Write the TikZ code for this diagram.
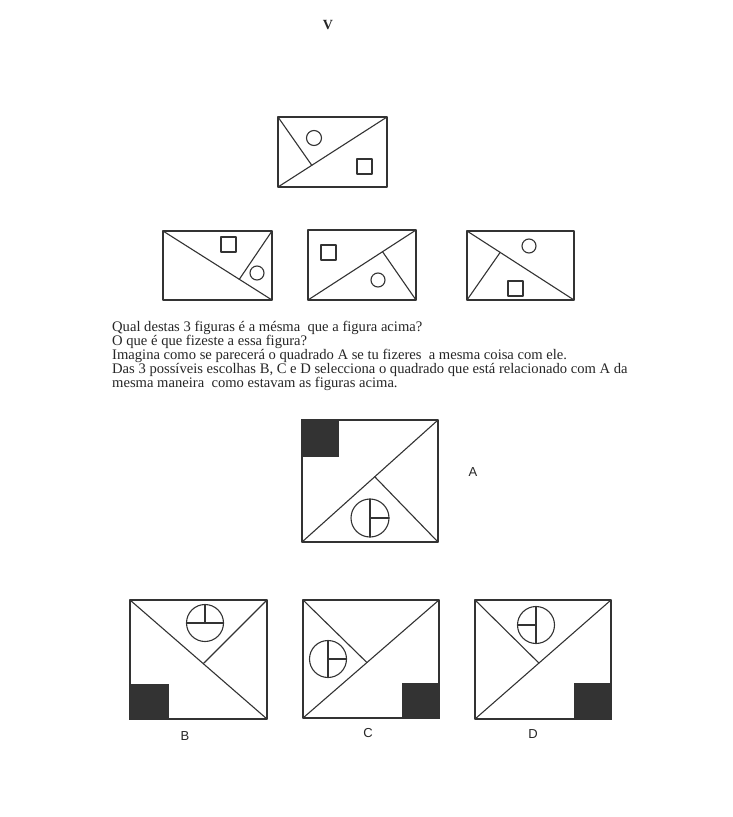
\documentclass[tikz,border=0pt]{standalone}
\usepackage{fontspec}
\setmainfont{Liberation Serif}
\newfontfamily\labelfont{Liberation Sans}
\usetikzlibrary{calc}
\begin{document}
\begin{tikzpicture}[x=1pt,y=-1pt,
  fig/.style={draw=black!80, line width=1.1pt, line join=round, line cap=round},
  dark/.style={fill=black!80, draw=black!80, line width=1.1pt},
  txt/.style={anchor=base west, inner sep=0pt, text=black!85, font=\fontsize{14.6}{14}\selectfont},
  lbl/.style={font=\labelfont\fontsize{13}{15}\selectfont, inner sep=0pt, text=black!85}]
\useasboundingbox[fill=white] (0,0) rectangle (732,817);

\node[font=\bfseries\fontsize{14}{16}\selectfont, inner sep=0pt, text=black!85] (title) at (328,25) {V};

% ---- top figure
\coordinate (t1) at (278,117); \coordinate (t2) at (387,117);
\coordinate (t3) at (387,187); \coordinate (t4) at (278,187);
\draw[fig] (t1) rectangle (t3);
\draw[fig] (t4) -- (t2);
\coordinate (tf) at ($(t4)!0.31!(t2)$);
\draw[fig] (t1) -- (tf);
\draw[fig] (314,138) circle[radius=7.5];
\draw[fig] (357,159) rectangle (372,174);

% ---- row 2, figure 1
\coordinate (a1) at (163,231); \coordinate (a2) at (272,231);
\coordinate (a3) at (272,300); \coordinate (a4) at (163,300);
\draw[fig] (a1) rectangle (a3);
\draw[fig] (a1) -- (a3);
\coordinate (af) at ($(a1)!0.70!(a3)$);
\draw[fig] (a2) -- (af);
\draw[fig] (221,237) rectangle (236,252);
\draw[fig] (257,273) circle[radius=7];

% ---- row 2, figure 2
\coordinate (b1) at (308,230); \coordinate (b2) at (416,230);
\coordinate (b3) at (416,300); \coordinate (b4) at (308,300);
\draw[fig] (b1) rectangle (b3);
\draw[fig] (b4) -- (b2);
\coordinate (bf) at ($(b4)!0.69!(b2)$);
\draw[fig] (b3) -- (bf);
\draw[fig] (321,245) rectangle (336,260);
\draw[fig] (378,280) circle[radius=7];

% ---- row 2, figure 3
\coordinate (c1) at (467,231); \coordinate (c2) at (574,231);
\coordinate (c3) at (574,300); \coordinate (c4) at (467,300);
\draw[fig] (c1) rectangle (c3);
\draw[fig] (c1) -- (c3);
\coordinate (cf) at ($(c1)!0.31!(c3)$);
\draw[fig] (c4) -- (cf);
\draw[fig] (529,246) circle[radius=7];
\draw[fig] (508,281) rectangle (523,296);

% ---- text
\node[txt] (l1) at (112,331) {Qual destas 3 figuras é a mésma\ \ que a figura acima?};
\node[txt] (l2) at (112,345) {O que é que fizeste a essa figura?};
\node[txt] (l3) at (112,359) {Imagina como se parecerá o quadrado A se tu fizeres\ \ a mesma coisa com ele.};
\node[txt] (l4) at (112,373) {Das 3 possíveis escolhas B, C e D selecciona o quadrado que está relacionado com A da};
\node[txt] (l5) at (112,387) {mesma maneira\ \ como estavam as figuras acima.};

% ---- figure A
\coordinate (A1) at (302,420); \coordinate (A2) at (438,420);
\coordinate (A3) at (438,542); \coordinate (A4) at (302,542);
\draw[dark] (A1) rectangle (338,456);
\draw[fig] (A1) rectangle (A3);
\draw[fig] (A4) -- (A2);
\coordinate (Af) at ($(A4)!0.535!(A2)$);
\draw[fig] (A3) -- (Af);
\coordinate (Ac) at (370,518);
\draw[fig] (Ac) circle[radius=19];
\draw[fig] ($(Ac)+(0,-19)$) -- ($(Ac)+(0,19)$);
\draw[fig] (Ac) -- ($(Ac)+(19,0)$);
\node[lbl] (labA) at (473,472) {A};

% ---- figure B
\coordinate (B1) at (130,600); \coordinate (B2) at (267,600);
\coordinate (B3) at (267,719); \coordinate (B4) at (130,719);
\draw[dark] (B4) rectangle (168,685);
\draw[fig] (B1) rectangle (B3);
\draw[fig] (B1) -- (B3);
\coordinate (Bf) at ($(B1)!0.535!(B3)$);
\draw[fig] (B2) -- (Bf);
\coordinate (Bc) at (205,623);
\draw[fig] (Bc) circle[radius=18.5];
\draw[fig] ($(Bc)+(-18.5,0)$) -- ($(Bc)+(18.5,0)$);
\draw[fig] (Bc) -- ($(Bc)+(0,-18.5)$);
\node[lbl] (labB) at (185,736) {B};

% ---- figure C
\coordinate (C1) at (303,600); \coordinate (C2) at (439,600);
\coordinate (C3) at (439,718); \coordinate (C4) at (303,718);
\draw[dark] (403,684) rectangle (C3);
\draw[fig] (C1) rectangle (C3);
\draw[fig] (C4) -- (C2);
\coordinate (Cf) at ($(C4)!0.47!(C2)$);
\draw[fig] (C1) -- (Cf);
\coordinate (Cc) at (328,659);
\draw[fig] (Cc) circle[radius=18.5];
\draw[fig] ($(Cc)+(0,-18.5)$) -- ($(Cc)+(0,18.5)$);
\draw[fig] (Cc) -- ($(Cc)+(18.5,0)$);
\node[lbl] (labC) at (368,733) {C};

% ---- figure D
\coordinate (D1) at (475,600); \coordinate (D2) at (611,600);
\coordinate (D3) at (611,719); \coordinate (D4) at (475,719);
\draw[dark] (575,684) rectangle (D3);
\draw[fig] (D1) rectangle (D3);
\draw[fig] (D4) -- (D2);
\coordinate (Df) at ($(D4)!0.47!(D2)$);
\draw[fig] (D1) -- (Df);
\coordinate (Dc) at (536,625);
\draw[fig] (Dc) circle[radius=18.5];
\draw[fig] ($(Dc)+(0,-18.5)$) -- ($(Dc)+(0,18.5)$);
\draw[fig] (Dc) -- ($(Dc)+(-18.5,0)$);
\node[lbl] (labD) at (533,734) {D};
\end{tikzpicture}
\end{document}
